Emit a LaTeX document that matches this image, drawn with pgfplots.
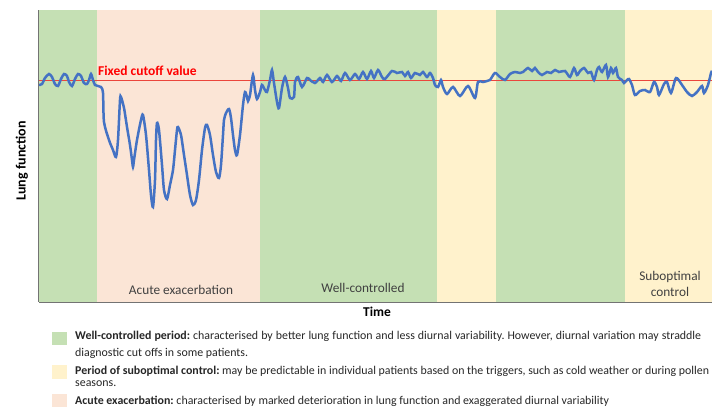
\documentclass[border=0pt]{standalone}
\usepackage{pgfplots}
\pgfplotsset{compat=1.18}
\usepackage{fontspec}
\setmainfont{Carlito}
\definecolor{cgreen}{RGB}{197,224,180}
\definecolor{cpeach}{RGB}{251,229,214}
\definecolor{cyellow}{RGB}{255,242,204}
\definecolor{cblue}{RGB}{68,114,196}
\definecolor{cred}{RGB}{235,70,60}
\definecolor{ctext}{RGB}{64,64,64}
\frenchspacing
\begin{document}
\begin{tikzpicture}
\useasboundingbox (0,0) rectangle (712pt,407pt);
\begin{axis}[
  at={(39pt,105pt)}, anchor=south west,
  width=673pt, height=292pt, scale only axis,
  xmin=39, xmax=712, ymin=-1, ymax=291,
  axis x line=bottom, axis y line=left,
  axis line style={-, draw=black!55, line width=1.1pt},
  xtick=\empty, ytick=\empty,
  clip=true,
]
% background periods
\addplot[fill=cgreen, draw=none] coordinates {(39,-1) (39,291) (97,291) (97,-1)} -- cycle;
\addplot[fill=cpeach, draw=none] coordinates {(97,-1) (97,291) (260,291) (260,-1)} -- cycle;
\addplot[fill=cgreen, draw=none] coordinates {(260,-1) (260,291) (437,291) (437,-1)} -- cycle;
\addplot[fill=cyellow, draw=none] coordinates {(437,-1) (437,291) (496,291) (496,-1)} -- cycle;
\addplot[fill=cgreen, draw=none] coordinates {(496,-1) (496,291) (625,291) (625,-1)} -- cycle;
\addplot[fill=cyellow, draw=none] coordinates {(625,-1) (625,291) (712,291) (712,-1)} -- cycle;
% cutoff
\addplot[cred, line width=0.9pt] coordinates {(39,221) (712,221)};
% lung function
\addplot[cblue, line width=2.5pt, smooth, tension=0.45] coordinates {
(39,216) (42,217) (45,223) (49,227) (52,224) (55,217) (58,215) (61,222) (64,227) (67,225)
(69,219) (72,215) (75,222) (78,227) (81,225) (84,218) (87,217) (89,221) (91,227) (93,221)
(95,216) (98,215) (101,214)
(103,208) (104,179) (109,161) (113,151) (116,144) (118,161) (120,201) (121,204) (124,193)
(127,174) (130,156) (132,141) (133,134) (134,141) (137,161) (141,181) (143,186) (146,166)
(149,131) (151,106) (153,94) (155,121) (156,161) (157,178) (159,171) (162,136) (164,111)
(167,102) (170,116) (173,131) (175,151) (177,171) (178,174) (181,166) (184,146) (187,126)
(190,106) (193,96) (196,101) (199,121) (202,151) (205,173) (207,176) (210,166) (213,146)
(216,129) (219,123) (221,136) (223,166) (224,181) (226,188) (229,192) (231,183) (233,166)
(235,151) (237,146) (240,166) (243,196) (245,209) (247,204) (248,200) (250,206) (253,226)
(255,211) (257,202) (260,209)
(262,216) (265,211) (267,209) (270,221) (272,231) (274,218) (277,199) (279,193) (282,213)
(285,224) (288,213) (290,203) (294,204) (295,219) (298,224) (302,214) (307,223) (310,221)
(315,218) (320,223) (323,219) (327,226) (332,219) (337,225) (341,220) (345,228) (350,221)
(355,227) (359,222) (363,229) (367,222) (371,230) (374,223) (378,231) (382,224) (385,222)
(392,230) (397,228) (402,229) (405,225) (408,229) (411,223) (415,228) (420,226) (423,229)
(427,224) (430,228) (433,223) (435,216)
(438,214) (441,221) (443,214) (447,207) (453,214) (460,205) (468,215) (475,203) (478,219)
(483,219) (487,220) (490,221)
(495,228) (500,224) (505,221) (510,227) (515,229) (520,228) (523,229) (528,233) (532,230)
(535,233) (538,229) (542,226) (547,229) (551,228) (555,231) (559,229) (565,230) (570,224)
(574,233) (577,226) (580,230) (584,233) (588,228) (591,229) (594,221) (597,231) (599,234)
(602,229) (606,236) (608,224) (611,233) (613,228) (616,233) (618,224) (622,221) (624,218)
(627,221) (629,222) (632,216) (635,206) (640,210) (645,211) (650,209) (654,219) (657,214)
(659,206) (664,217) (667,219) (671,208) (676,223) (682,216) (687,209) (692,205) (697,209)
(702,215) (704,208) (708,216) (711,228) (712,230)
};
\node[anchor=west, text=red, font=\fontsize{13.5}{15}\selectfont\bfseries, inner sep=0pt] at (axis cs:98,230) {Fixed cutoff value};
\node[text=ctext, font=\fontsize{13.3}{15}\selectfont, inner sep=0pt] at (axis cs:181,11) {Acute exacerbation};
\node[text=ctext, font=\fontsize{13.3}{15}\selectfont, inner sep=0pt] at (axis cs:363,13) {Well-controlled};
\node[text=ctext, font=\fontsize{13.3}{16}\selectfont, inner sep=0pt, align=center] at (axis cs:670,17) {Suboptimal\\control};
\end{axis}
% axis titles
\node[font=\fontsize{13.5}{15}\selectfont\bfseries, inner sep=0pt] at (377pt,95pt) {Time};
\node[font=\fontsize{14}{16}\selectfont\bfseries, inner sep=0pt, rotate=90] at (22pt,246pt) {Lung function};
% legend
\fill[cgreen] (52pt,62pt) rectangle (67pt,75pt);
\fill[cyellow] (52pt,28pt) rectangle (67pt,42pt);
\fill[cpeach] (52pt,0pt) rectangle (67pt,13pt);
\begin{scope}[every node/.style={anchor=base west, inner sep=0pt, font=\fontsize{11.9}{14}\selectfont, text=black!85}]
\node at (75pt,67pt) {\makebox[626pt][s]{\textbf{Well-controlled period:} characterised by better lung function and less diurnal variability. However, diurnal variation may straddle}};
\node at (75pt,51pt) {diagnostic cut offs in some patients.};
\node at (75pt,32pt) {\makebox[634pt][s]{\textbf{Period of suboptimal control:} may be predictable in individual patients based on the triggers, such as cold weather or during pollen}};
\node at (75pt,20pt) {seasons.};
\node at (75pt,3pt) {\textbf{Acute exacerbation:} characterised by marked deterioration in lung function and exaggerated diurnal variability};
\end{scope}
\end{tikzpicture}
\end{document}
